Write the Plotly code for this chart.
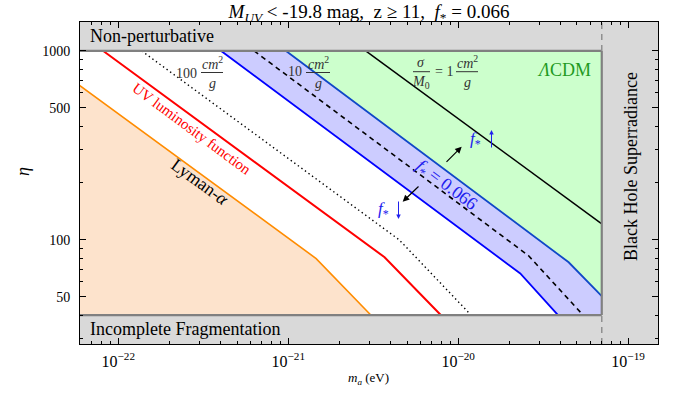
import plotly.graph_objects as go
import numpy as np

# ---------------- data ----------------
X_RANGE = [5.95e-23, 1.5e-19]      # m_a (eV)
Y_RANGE = [28.1, 1423]             # eta
ETA_TOP, ETA_BOT = 1000, 40        # non-perturbative / incomplete fragmentation limits
M_BH = 7.0e-20                     # black hole superradiance limit
X_EXT = 5.0e-23

lya_m = [5.0e-23, 1.46e-21, 3.06e-21]
lya_eta = [733, 79.6, 40]
uv_m = [8.16e-23, 3.69e-21, 7.9e-21]
uv_eta = [1000, 80.9, 40]
s100_m = [1.373e-22, 4.50e-21, 1.19e-20]
s100_eta = [1000, 100, 40]
blue_lo_m = [4.03e-22, 2.32e-20, 3.87e-20]
blue_lo_eta = [1000, 66.4, 40]
blue_hi_m = [9.71e-22, 4.47e-20, 7.0e-20]
blue_hi_eta = [1000, 76.1, 50.4]
fid_m = [6.30e-22, 2.59e-20, 5.43e-20]
fid_eta = [1000, 82.6, 40]
s1_m = [2.857e-21, 7.0e-20]
s1_eta = [1000, 121.5]

x_major = [1e-22, 1e-21, 1e-20, 1e-19]
x_major_text = ["10<sup>\u221222</sup>", "10<sup>\u221221</sup>", "10<sup>\u221220</sup>", "10<sup>\u221219</sup>"]
y_major = [50, 100, 500, 1000]
y_major_text = ["50", "100", "500", "1000"]

W, H = 681, 399
ML, MR, MT, MB = 80, 23, 22, 55
PW, PH = W - ML - MR, H - MT - MB
FONT = "Liberation Serif"

def pxx(x):
    return (x - ML) / PW

def pxy(y):
    return (H - MB - y) / PH

fig = go.Figure()

def poly(xs, ys, color):
    fig.add_trace(go.Scatter(x=xs, y=ys, fill="toself", fillcolor=color, mode="lines",
                             line=dict(width=0, color=color), hoverinfo="skip", showlegend=False))

def line(xs, ys, color, width=1.5, dash=None):
    fig.add_trace(go.Scatter(x=xs, y=ys, mode="lines", line=dict(color=color, width=width, dash=dash),
                             hoverinfo="skip", showlegend=False))

# allowed region (white)
poly([X_EXT, M_BH, M_BH, X_EXT], [ETA_BOT, ETA_BOT, ETA_TOP, ETA_TOP], "white")
# Lyman-alpha excluded region
poly(lya_m + [lya_m[-1], X_EXT], lya_eta + [ETA_BOT, ETA_BOT], "#fde3cc")
# LCDM-like region
poly(blue_hi_m + [M_BH], blue_hi_eta + [ETA_TOP], "#ccffcc")
# f_* band
poly(blue_lo_m + [M_BH] + blue_hi_m[::-1], blue_lo_eta + [ETA_BOT] + blue_hi_eta[::-1], "#ccccff")

line(lya_m, lya_eta, "#ff8c00", 1.6)
line(uv_m, uv_eta, "#ff0000", 2)
line(s100_m, s100_eta, "black", 1.4, "1.4px,3px")
line(blue_lo_m, blue_lo_eta, "#0000ff", 1.8)
line(blue_hi_m, blue_hi_eta, "#1048c8", 1.8)
line(fid_m, fid_eta, "black", 1.6, "5px,4px")
line(s1_m, s1_eta, "black", 1.5)

# frame of the allowed region
line([X_EXT, M_BH], [ETA_TOP, ETA_TOP], "#808080", 2.2)
line([X_EXT, M_BH], [ETA_BOT, ETA_BOT], "#808080", 2.2)
line([M_BH, M_BH], [ETA_BOT, ETA_TOP], "#808080", 2.2)
line([M_BH, M_BH], [ETA_TOP, Y_RANGE[1]], "#909090", 1.5, "6px,5px")
line([M_BH, M_BH], [Y_RANGE[0], ETA_BOT], "#909090", 1.5, "6px,5px")

# invisible trace for the minor-tick overlay axes
fig.add_trace(go.Scatter(x=[1e-21], y=[100], mode="markers", marker=dict(opacity=0),
                         xaxis="x2", yaxis="y2", hoverinfo="skip", showlegend=False))

x_minor = [k * 10.0 ** e for e in range(-23, -18) for k in range(2, 10)]
y_minor = [k * 10.0 ** e for e in range(1, 4) for k in range(2, 10)]

fig.update_layout(
    width=W, height=H,
    margin=dict(l=ML, r=MR, t=MT, b=MB),
    paper_bgcolor="white", plot_bgcolor="#d9d9d9",
    title=dict(text="<i>M</i><sub><i>UV</i></sub> < -19.8 mag,  z \u2265 11,  <i>f</i><sub>*</sub> = 0.066",
               x=0.5, xref="paper", xanchor="center", y=1 - 11 / H, yref="container", yanchor="middle",
               font=dict(family=FONT, size=19, color="black")),
    xaxis=dict(type="log", range=[np.log10(X_RANGE[0]), np.log10(X_RANGE[1])],
               tickmode="array", tickvals=x_major, ticktext=x_major_text,
               ticks="inside", ticklen=6, tickcolor="black", tickwidth=1,
               showline=True, linecolor="black", linewidth=1, mirror="allticks",
               showgrid=False, zeroline=False, ticklabelstandoff=3,
               tickfont=dict(family=FONT, size=16, color="black")),
    yaxis=dict(type="log", range=[np.log10(Y_RANGE[0]), np.log10(Y_RANGE[1])],
               tickmode="array", tickvals=y_major, ticktext=y_major_text,
               ticks="inside", ticklen=6, tickcolor="black", tickwidth=1,
               showline=True, linecolor="black", linewidth=1, mirror="allticks",
               showgrid=False, zeroline=False, ticklabelstandoff=6,
               tickfont=dict(family=FONT, size=14, color="black")),
    xaxis2=dict(type="log", range=[np.log10(X_RANGE[0]), np.log10(X_RANGE[1])], overlaying="x",
                tickmode="array", tickvals=x_minor, showticklabels=False,
                ticks="inside", ticklen=3, tickcolor="black", tickwidth=1,
                showline=False, mirror="allticks", showgrid=False, zeroline=False),
    yaxis2=dict(type="log", range=[np.log10(Y_RANGE[0]), np.log10(Y_RANGE[1])], overlaying="y",
                tickmode="array", tickvals=y_minor, showticklabels=False,
                ticks="inside", ticklen=3, tickcolor="black", tickwidth=1,
                showline=False, mirror="allticks", showgrid=False, zeroline=False),
)

ann = []

def text(x, y, t, size=18, color="black", angle=0, xanchor="center", yanchor="middle", family=FONT):
    ann.append(dict(x=pxx(x), y=pxy(y), xref="paper", yref="paper", text=t, showarrow=False,
                    textangle=angle, xanchor=xanchor, yanchor=yanchor,
                    font=dict(family=family, size=size, color=color)))

def arrow(x_head, y_head, x_tail, y_tail, color="black", width=1.2, head=2, size=1.1):
    ann.append(dict(x=pxx(x_head), y=pxy(y_head), xref="paper", yref="paper", text="",
                    showarrow=True, ax=x_tail - x_head, ay=y_tail - y_head,
                    arrowhead=head, arrowsize=size, arrowwidth=width, arrowcolor=color))

shapes = []

def bar(x0, x1, y):
    shapes.append(dict(type="line", xref="paper", yref="paper", x0=pxx(x0), x1=pxx(x1),
                       y0=pxy(y), y1=pxy(y), line=dict(color="#333333", width=1)))

BLUE = "#2020ee"
text(88, 36, "Non-perturbative", xanchor="left")
text(88, 329, "Incomplete Fragmentation", xanchor="left")
text(631, 167, "Black Hole Superradiance", angle=-90)
text(564, 70, "<i>\u039b</i>CDM", color="#1f9a1f")
text(192, 129, "UV luminosity function", size=15, color="#ff0000", angle=36.5)
text(200, 182, "Lyman-<i>\u03b1</i>", size=18, angle=36)
text(446, 185, "<i>f</i><sub>*</sub> = 0.066", size=18, color=BLUE, angle=37)
text(476, 140, "<i>f</i><sub>*</sub>", size=17, color=BLUE)
arrow(491.5, 130, 491.5, 149, color=BLUE, width=1, head=2, size=0.9)
text(383, 210, "<i>f</i><sub>*</sub>", size=17, color=BLUE)
arrow(398.5, 219, 398.5, 200, color=BLUE, width=1, head=2, size=0.9)
arrow(461.7, 146.7, 445, 163.3)
arrow(402.7, 201.7, 420, 185)

# cross-section labels (fractions)
FC = "#333333"
text(199, 73, "100", size=14, color=FC, xanchor="right")
text(212, 63, "<i>cm</i><sup>2</sup>", size=14, color=FC)
bar(201, 223, 72.5)
text(212, 83, "<i>g</i>", size=14, color=FC)

text(304, 72, "10", size=14, color=FC, xanchor="right")
text(318, 63, "<i>cm</i><sup>2</sup>", size=14, color=FC)
bar(306, 330, 72.5)
text(318, 83, "<i>g</i>", size=14, color=FC)

text(421, 62, "<i>\u03c3</i>", size=14, color=FC)
bar(413, 430, 71.7)
text(421, 82, "<i>M</i><sub>0</sub>", size=14, color=FC)
text(444, 71, "= 1", size=14, color=FC)
text(467, 62, "<i>cm</i><sup>2</sup>", size=14, color=FC)
bar(456, 478, 71.7)
text(467, 82, "<i>g</i>", size=14, color=FC)

# axis titles
text(23, 172, "<i>\u03b7</i>", size=18, angle=-90)
text(368, 378, "<i>m<sub>a</sub></i> (eV)", size=13)

fig.update_layout(annotations=ann, shapes=shapes)
fig.write_html("out.html")
